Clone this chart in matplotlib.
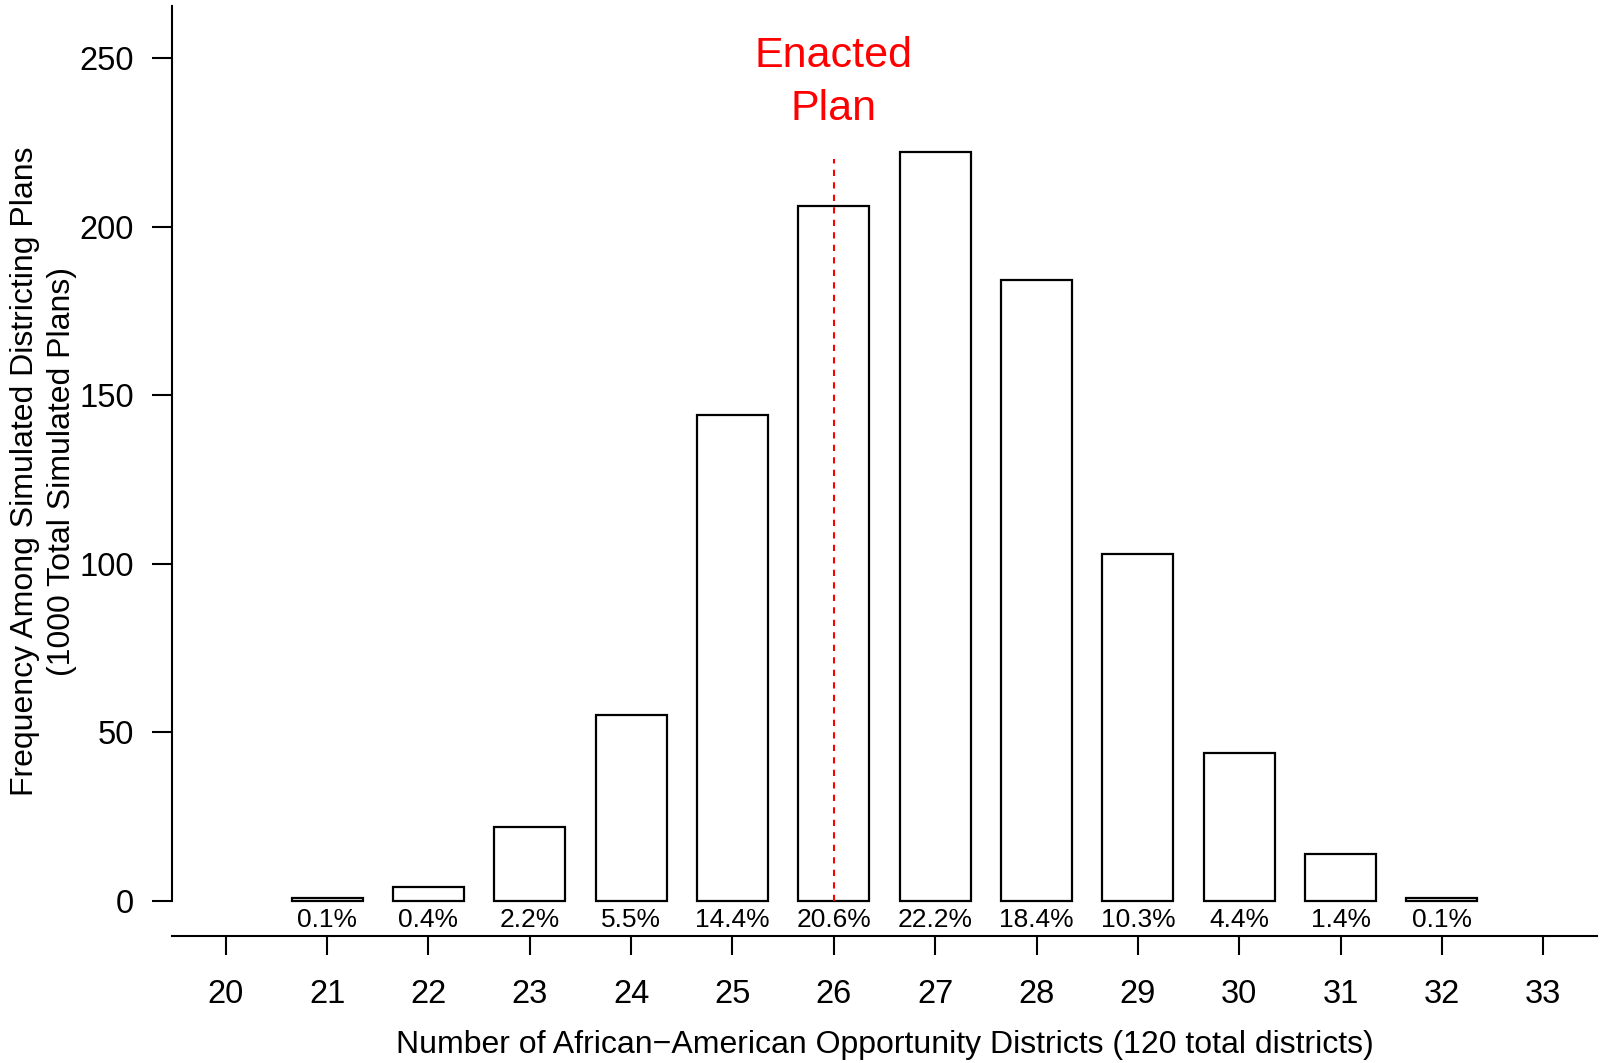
import matplotlib
matplotlib.use('Agg')
import matplotlib.pyplot as plt

plt.rcParams['font.family'] = ['Liberation Sans', 'DejaVu Sans']

# 데이터
districts = [21, 22, 23, 24, 25, 26, 27, 28, 29, 30, 31, 32]
counts = [1, 4, 22, 55, 144, 206, 222, 184, 103, 44, 14, 1]
tick_vals = list(range(20, 34))
y_ticks = [0, 50, 100, 150, 200, 250]
enacted = 26
total_plans = 1000

W, H = 1602, 1063
fig = plt.figure(figsize=(W / 100, H / 100), dpi=100)
ax = fig.add_axes([172 / W, (H - 936) / H, (1597 - 172) / W, (936 - 6) / H])

ax.bar(districts, counts, width=0.7, facecolor='white', edgecolor='black', linewidth=1.6)

# 퍼센트 라벨
for d, c in zip(districts, counts):
    ax.text(d, -5.6, f'{c / total_plans * 100:.1f}%', ha='center', va='center', fontsize=19)

# 시행 계획 표시
ax.plot([enacted, enacted], [0, 220], color='red', linestyle=(0, (3, 3)), linewidth=1.5)
ax.text(enacted, 247.4, 'Enacted', color='red', fontsize=31, ha='center', va='baseline')
ax.text(enacted, 231.6, 'Plan', color='red', fontsize=31, ha='center', va='baseline')

ax.set_xlim(19.47, 33.53)
ax.set_ylim(-10.4, 265.4)

for s in ['top', 'right']:
    ax.spines[s].set_visible(False)
ax.spines['left'].set_bounds(0, 265.4)
ax.spines['left'].set_linewidth(1.5)
ax.spines['bottom'].set_linewidth(1.5)

ax.set_xticks(tick_vals)
ax.set_xticklabels([str(v) for v in tick_vals])
ax.set_yticks(y_ticks)
ax.set_yticklabels([str(v) for v in y_ticks])
ax.tick_params(axis='x', length=14, width=1.5, pad=17, labelsize=23.5)
ax.tick_params(axis='y', length=14.5, width=1.5, pad=13, labelsize=23.5)

fig.text((172 + 1597) / 2 / W, (H - 1045) / H,
         'Number of African\u2212American Opportunity Districts (120 total districts)',
         ha='center', va='center', fontsize=23)
fig.text(33 / W, (H - 471) / H, 'Frequency Among Simulated Districting Plans',
         rotation=90, rotation_mode='anchor', ha='center', va='baseline', fontsize=23)
fig.text(70 / W, (H - 471) / H, '(1000 Total Simulated Plans)',
         rotation=90, rotation_mode='anchor', ha='center', va='baseline', fontsize=23)

plt.savefig('out.png', dpi=100)
